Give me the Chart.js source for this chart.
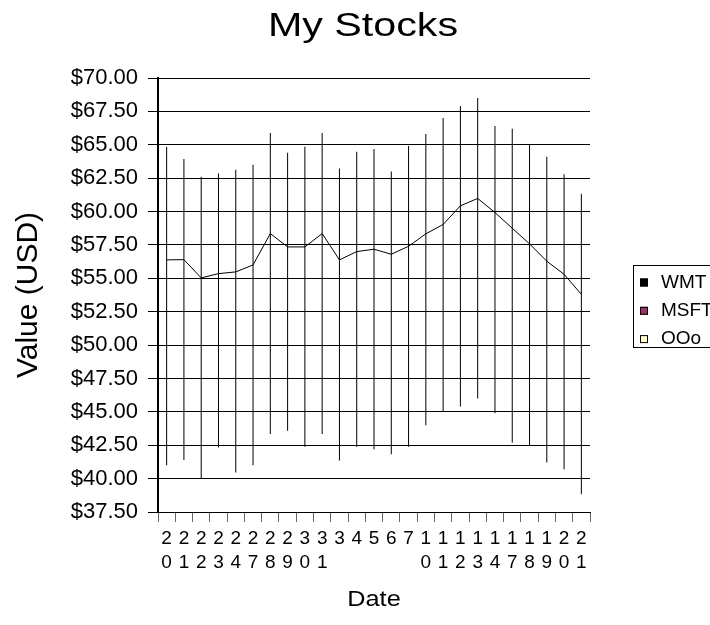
<!DOCTYPE html>
<html>
<head>
<meta charset="utf-8">
<script src="https://cdn.jsdelivr.net/npm/chart.js@4.4.1/dist/chart.umd.min.js"></script>
<style>
  body { margin: 0; background: #fff; }
  canvas { display: block; }
</style>
</head>
<body>
<canvas id="stockChart" width="710" height="625"></canvas>
<script>
// trading days (day of month)
const dates = ['20','21','22','23','24','27','28','29','30','31','3','4','5','6','7','10','11','12','13','14','17','18','19','20','21'];
const highs = [64.83,63.93,62.60,62.85,63.13,63.50,65.88,64.40,64.85,65.88,63.23,64.48,64.68,63.00,64.90,65.80,67.00,67.90,68.50,66.40,66.20,64.98,64.10,62.80,61.33];
const lows = [41.00,41.40,40.00,42.33,40.45,41.00,43.35,43.58,42.38,43.35,41.35,42.38,42.20,41.83,42.38,44.00,45.03,45.40,46.00,44.90,42.68,42.48,41.20,40.70,38.83];
const closes = [56.38,56.40,55.03,55.35,55.48,56.00,58.35,57.35,57.35,58.35,56.38,57.00,57.18,56.80,57.40,58.33,59.03,60.43,60.98,59.93,58.75,57.58,56.28,55.30,53.80];
const seriesNames = ['WMT', 'MSFT', 'OOo'];
const seriesColors = ['#000000', '#993366', '#ffffcc'];

const FONT = '"Liberation Sans", Arial, sans-serif';
Chart.defaults.font.family = FONT;
Chart.defaults.color = '#000';

// stretched titles + boxed legend, drawn on top of the chart
const decorations = {
  id: 'decorations',
  afterDraw(chart) {
    const ctx = chart.ctx;
    const area = chart.chartArea;
    ctx.save();
    ctx.fillStyle = '#000';
    ctx.textAlign = 'center';
    ctx.textBaseline = 'middle';

    ctx.save();
    ctx.translate(363, 27);
    ctx.scale(1.25, 1);
    ctx.font = '33px ' + FONT;
    ctx.fillText('My Stocks', 0, 0);
    ctx.restore();

    ctx.save();
    ctx.translate((area.left + area.right) / 2, 600);
    ctx.scale(1.15, 1);
    ctx.font = '22px ' + FONT;
    ctx.fillText('Date', 0, 0);
    ctx.restore();

    // legend
    ctx.strokeStyle = '#000';
    ctx.lineWidth = 1;
    ctx.strokeRect(633.5, 265.5, 100, 82);
    ctx.font = '19px ' + FONT;
    ctx.textAlign = 'left';
    seriesNames.forEach((name, i) => {
      const y = 282.5 + i * 28.3;
      ctx.fillStyle = seriesColors[i];
      ctx.fillRect(640, y - 4, 8, 8);
      ctx.strokeRect(640.5, y - 3.5, 7, 7);
      ctx.fillStyle = '#000';
      ctx.fillText(name, 661, y);
    });
    ctx.restore();
  }
};

new Chart(document.getElementById('stockChart'), {
  type: 'bar',
  data: {
    labels: dates,
    datasets: [
      {
        type: 'line',
        label: 'Close',
        data: closes,
        borderColor: '#000',
        borderWidth: 1,
        pointRadius: 0,
        tension: 0,
        fill: false
      },
      {
        label: 'High-Low',
        data: highs.map((h, i) => [lows[i], h]),
        backgroundColor: '#000',
        barThickness: 1,
        inflateAmount: 0
      }
    ]
  },
  options: {
    responsive: false,
    animation: false,
    devicePixelRatio: 1,
    layout: { padding: { top: 78, right: 120, bottom: 0, left: 0 } },
    plugins: {
      legend: { display: false },
      title: { display: false },
      tooltip: { enabled: false }
    },
    scales: {
      x: {
        offset: true,
        afterFit(scale) { scale.height = 113; },
        grid: {
          offset: true,
          drawOnChartArea: false,
          drawTicks: true,
          tickLength: 10,
          color: '#666',
          lineWidth: 1
        },
        border: { display: true, color: '#000', width: 1 },
        ticks: {
          autoSkip: false,
          maxRotation: 0,
          minRotation: 0,
          padding: 5,
          font: { size: 19, lineHeight: 1.263 },
          callback(value) { return this.getLabelForValue(value).split(''); }
        }
      },
      y: {
        min: 37.5,
        max: 70,
        afterFit(scale) { scale.width = 158; },
        grid: {
          color: '#000',
          lineWidth: 1,
          tickLength: 10
        },
        border: { display: true, color: '#000', width: 2 },
        ticks: {
          stepSize: 2.5,
          padding: 10,
          font: { size: 22 },
          callback: (v) => '$' + v.toFixed(2)
        },
        title: {
          display: true,
          text: 'Value (USD)',
          font: { size: 30 },
          padding: { top: 11, bottom: 0 }
        }
      }
    }
  },
  plugins: [decorations]
});
</script>
</body>
</html>
